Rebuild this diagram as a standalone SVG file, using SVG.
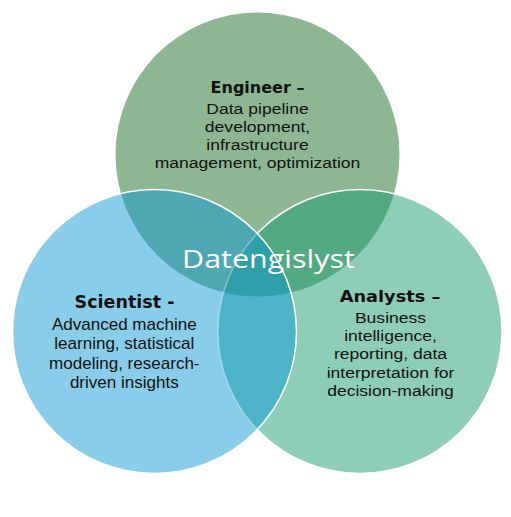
<svg xmlns="http://www.w3.org/2000/svg" width="511" height="517" viewBox="0 0 511 517">
  <style>
    .head { font-family: "DejaVu Sans", "Liberation Sans", sans-serif; font-weight: bold; fill: #111; text-anchor: middle; }
    .bodyA { font-family: "Liberation Sans", Arial, sans-serif; font-size: 15px; fill: #111; text-anchor: middle; }
    .bodyN { font-family: "Liberation Sans", Arial, sans-serif; font-size: 16px; fill: #111; text-anchor: middle; }
    .center { font-family: "Open Sans", "Noto Sans", sans-serif; font-size: 26px; fill: #ffffff; }
    .edge { fill: none; stroke: #ffffff; stroke-width: 1.5; }
  </style>
  <defs>
    <clipPath id="cT"><circle cx="257.5" cy="154.5" r="142"/></clipPath>
    <clipPath id="cL"><circle cx="154.5" cy="331.5" r="142"/></clipPath>
    <mask id="mNotL">
      <rect x="0" y="0" width="511" height="517" fill="#fff"/>
      <circle cx="154.5" cy="331.5" r="142" fill="#000"/>
    </mask>
  </defs>
  <rect x="0" y="0" width="511" height="517" fill="#ffffff"/>

  <g id="node-engineer">
    <circle cx="257.5" cy="154.5" r="142" fill="#8cb792"/>
  </g>
  <g id="node-scientist">
    <circle cx="154.5" cy="331.5" r="142" fill="#89cdea"/>
  </g>
  <g id="node-analysts">
    <circle cx="360" cy="331.5" r="142" fill="#8ecdb7"/>
  </g>

  <g id="overlaps">
    <circle cx="154.5" cy="331.5" r="142" fill="#4ea8b3" clip-path="url(#cT)"/>
    <circle cx="360" cy="331.5" r="142" fill="#53a982" clip-path="url(#cT)"/>
    <circle cx="360" cy="331.5" r="142" fill="#4db4c8" clip-path="url(#cL)"/>
    <g clip-path="url(#cT)">
      <circle cx="360" cy="331.5" r="142" fill="#2fa0aa" clip-path="url(#cL)"/>
    </g>
    <circle class="edge" cx="154.5" cy="331.5" r="142"/>
    <circle class="edge" cx="360" cy="331.5" r="142" mask="url(#mNotL)"/>
    <circle class="edge" cx="360" cy="331.5" r="142" opacity="0.35" clip-path="url(#cL)"/>
  </g>

  <g id="connectors"/>

  <g id="label-engineer">
    <text class="head" x="257.5" y="93" font-size="16">Engineer –</text>
    <g transform="translate(257.5 0) scale(1.17 1)">
      <text class="bodyA" x="0" y="114">Data pipeline</text>
      <text class="bodyA" x="0" y="132">development,</text>
      <text class="bodyA" x="0" y="150">infrastructure</text>
      <text class="bodyA" x="0" y="168">management, optimization</text>
    </g>
  </g>

  <g id="label-scientist">
    <text class="head" x="124.5" y="308.3" font-size="17.5">Scientist -</text>
    <g transform="translate(124.3 0) scale(1.065 1)">
      <text class="bodyN" x="0" y="330">Advanced machine</text>
      <text class="bodyN" x="0" y="349.5">learning, statistical</text>
      <text class="bodyN" x="0" y="369">modeling, research-</text>
      <text class="bodyN" x="0" y="388.5">driven insights</text>
    </g>
  </g>

  <g id="label-analysts">
    <g transform="translate(390 0) scale(1.11 1)">
      <text class="head" x="0" y="301.7" font-size="16">Analysts –</text>
    </g>
    <g transform="translate(390.5 0) scale(1.17 1)">
      <text class="bodyA" x="0" y="323">Business</text>
      <text class="bodyA" x="0" y="341.2">intelligence,</text>
      <text class="bodyA" x="0" y="359.4">reporting, data</text>
      <text class="bodyA" x="0" y="377.6">interpretation for</text>
      <text class="bodyA" x="0" y="395.8">decision-making</text>
    </g>
  </g>

  <g id="label-center">
    <text class="center" x="182" y="268.3" textLength="173" lengthAdjust="spacingAndGlyphs">Datengislyst</text>
  </g>
</svg>
